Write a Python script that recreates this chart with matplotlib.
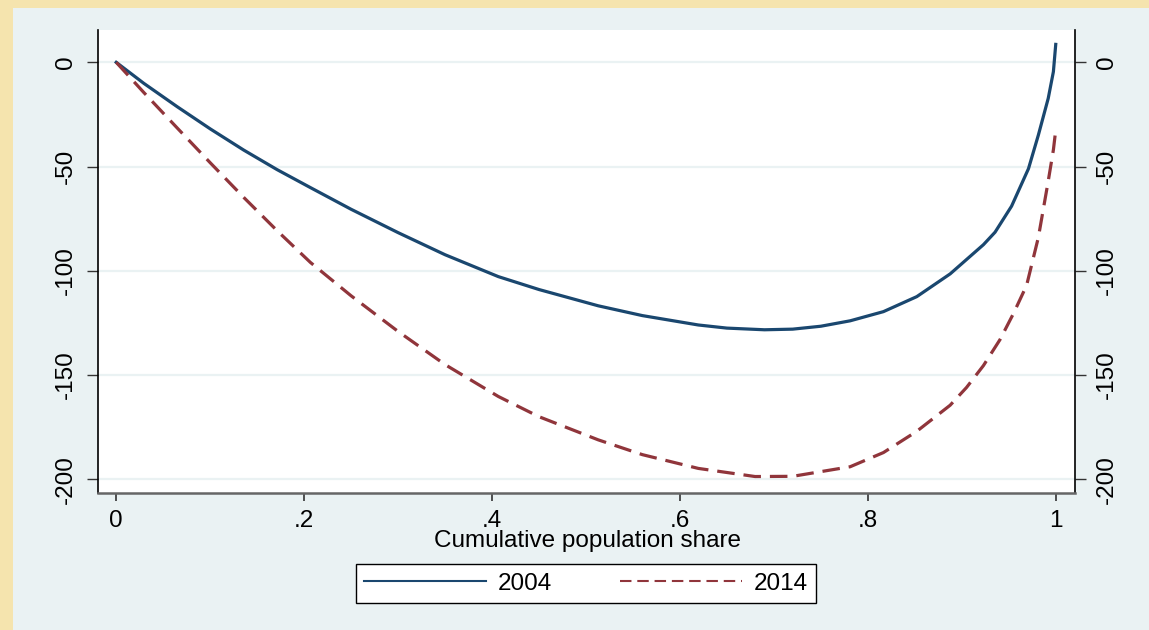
import matplotlib
matplotlib.use("Agg")
import matplotlib.pyplot as plt
from matplotlib.patches import Rectangle

plt.rcParams['font.family'] = ['Liberation Sans', 'DejaVu Sans']
plt.rcParams['axes.unicode_minus'] = False

# values
share_2004 = [0, 0.0294, 0.0649, 0.1003, 0.1357, 0.1713, 0.2067, 0.25, 0.3, 0.35, 0.4067,
              0.45, 0.513, 0.56, 0.6195, 0.65, 0.69, 0.72, 0.75, 0.7812, 0.8166, 0.8521,
              0.8876, 0.923, 0.9354, 0.953, 0.971, 0.9815, 0.992, 0.9975, 1.0]
gap_2004 = [0, -10.1, -21.3, -32.0, -42.1, -51.5, -60.1, -70.5, -81.7, -92.3, -102.8,
            -109.0, -116.8, -121.5, -126.0, -127.5, -128.3, -128.0, -126.6, -124.0, -119.6,
            -112.4, -101.5, -87.5, -81.5, -69.0, -51.0, -34.9, -17.3, -4.5, 8.6]

share_2014 = [0, 0.0294, 0.0649, 0.1003, 0.1357, 0.1713, 0.2067, 0.25, 0.3, 0.35, 0.4067,
              0.45, 0.513, 0.56, 0.6195, 0.68, 0.72, 0.7812, 0.8166, 0.8521, 0.8876, 0.905,
              0.923, 0.9407, 0.955, 0.969, 0.9815, 0.992, 0.9975, 1.0]
gap_2014 = [0, -14.5, -31.5, -48.3, -64.8, -80.8, -96.0, -112.0, -129.1, -145.0, -160.3,
            -170.0, -181.1, -188.2, -194.8, -198.7, -198.6, -194.0, -187.2, -177.0, -164.5,
            -156.0, -145.5, -133.0, -120.5, -107.0, -84.0, -57.0, -42.0, -32.5]

xticks = [0, 0.2, 0.4, 0.6, 0.8, 1.0]
xtick_labels = ['0', '.2', '.4', '.6', '.8', '1']
yticks = [0, -50, -100, -150, -200]

navy = '#1A476F'
maroon = '#90353B'
panel = '#EAF2F3'
fs = 17.5

fig = plt.figure(figsize=(11.49, 6.30), dpi=100)
fig.patch.set_facecolor('#F5E4AE')
fig.add_artist(Rectangle((13 / 1149, 0), 1 - 13 / 1149, 1 - 8 / 630,
                         transform=fig.transFigure, facecolor=panel,
                         edgecolor='none', zorder=-10))

ax = fig.add_axes([98 / 1149, 1 - 493 / 630, (1075 - 98) / 1149, (493 - 30) / 630])
ax.set_facecolor('white')

ax.plot(share_2004, gap_2004, color=navy, lw=2.3, label='2004', solid_joinstyle='round')
ax.plot(share_2014, gap_2014, color=maroon, lw=2.3, dashes=(5.5, 2.8), label='2014',
        dash_joinstyle='round')

ax.set_xlim(-0.0194, 1.0205)
ax.set_ylim(-206.6, 15.5)
ax.set_xticks(xticks)
ax.set_xticklabels(xtick_labels)
ax.set_yticks(yticks)
ax.grid(axis='y', color=panel, lw=1.6)
ax.set_axisbelow(True)

ax.spines['top'].set_visible(False)
ax.spines['left'].set_color('black')
ax.spines['right'].set_color('black')
ax.spines['bottom'].set_color('#666666')
ax.spines['bottom'].set_linewidth(1.8)
ax.spines['left'].set_linewidth(1.2)
ax.spines['right'].set_linewidth(1.2)

ax.tick_params(axis='x', length=6, width=1.2, pad=6, labelsize=fs, color='#333333')
ax.tick_params(axis='y', length=8, width=1, pad=7, labelsize=fs, right=True,
               labelright=True, labelrotation=90, color='#333333')
for lab in ax.get_yticklabels():
    lab.set_va('center')

fig.text(587 / 1149, 1 - 541 / 630, 'Cumulative population share', fontsize=fs,
         ha='center', va='center')

leg = fig.legend(loc='center', bbox_to_anchor=(586 / 1149, 1 - 583.5 / 630), ncol=2,
                 fontsize=fs, frameon=True, fancybox=False, framealpha=1,
                 edgecolor='black', handlelength=5.0, handletextpad=0.5,
                 columnspacing=2.8, borderpad=0.35)
leg.get_frame().set_linewidth(1.0)
for line in leg.get_lines():
    line.set_linewidth(1.5)

fig.savefig('out.png', dpi=100, facecolor=fig.get_facecolor())
